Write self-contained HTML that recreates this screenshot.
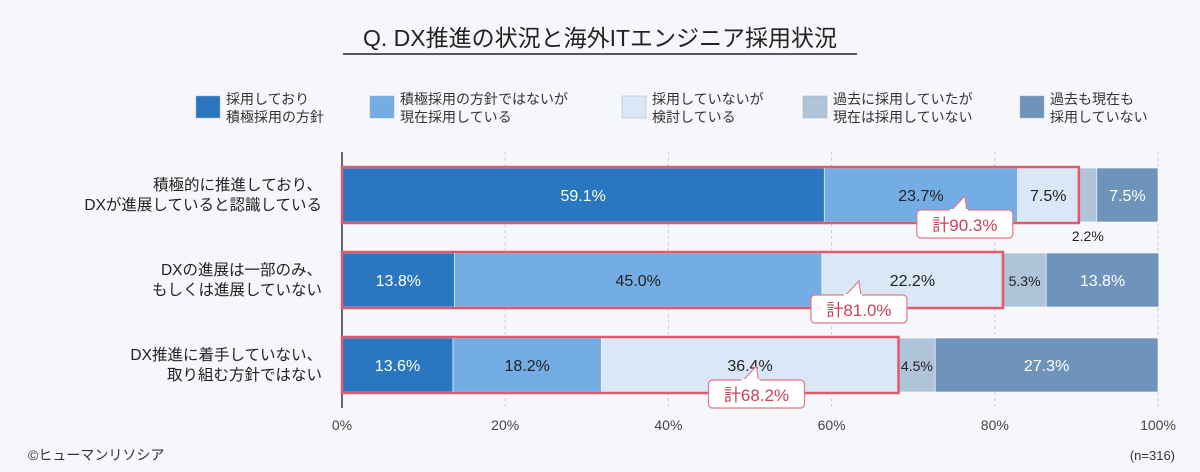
<!DOCTYPE html>
<html><head><meta charset="utf-8"><style>
body{margin:0;background:#f6f7fa;font-family:"Liberation Sans","Noto Sans CJK JP",sans-serif}
svg{display:block}
</style></head><body>
<svg id="c" width="1200" height="472" viewBox="0 0 1200 472" font-family="Liberation Sans, Noto Sans CJK JP, sans-serif">
<rect width="1200" height="472" fill="#f6f7fa"/>
<text x="600" y="46" text-anchor="middle" font-size="23" fill="#222">Q. DX推進の状況と海外ITエンジニア採用状況</text>
<line x1="343" y1="54" x2="857" y2="54" stroke="#222" stroke-width="1.5"/>
<text x="28" y="460" font-size="14" fill="#333">©ヒューマンリソシア</text>
<text x="1175" y="460" text-anchor="end" font-size="13" fill="#333">(n=316)</text>
<g id="legend"></g><g id="plot"></g>
</svg>
<script>
const categories=["積極的に推進しており、|DXが進展していると認識している","DXの進展は一部のみ、|もしくは進展していない","DX推進に着手していない、|取り組む方針ではない"];
const seriesNames=["採用しており|積極採用の方針","積極採用の方針ではないが|現在採用している","採用していないが|検討している","過去に採用していたが|現在は採用していない","過去も現在も|採用していない"];
const s1=[59.1,13.8,13.6];
const s2=[23.7,45.0,18.2];
const s3=[7.5,22.2,36.4];
const s4=[2.2,5.3,4.5];
const s5=[7.5,13.8,27.3];
const totals=["計90.3%","計81.0%","計68.2%"];
const ticks=[0,20,40,60,80,100];
const series=[s1,s2,s3,s4,s5];
const colors=["#2a77c0","#74ade4","#d9e7f7","#afc3d9","#6f94bc"];
const textCol=["#fff","#222","#222","#222","#fff"];
const NS="http://www.w3.org/2000/svg";
const X0=342,X1=1158;
const x=v=>X0+(X1-X0)*v/100;
const rowTop=i=>168+i*85, BH=54;
function mk(tag,attrs,parent,txt){const e=document.createElementNS(NS,tag);for(const k in attrs)e.setAttribute(k,attrs[k]);if(txt!==undefined)e.textContent=txt;parent.appendChild(e);return e;}
const plot=document.getElementById('plot'),leg=document.getElementById('legend');
// legend
const lx=[196,370,622,803,1020];
seriesNames.forEach((n,i)=>{
 const r=mk('rect',{x:lx[i],y:96,width:24,height:22,fill:colors[i],stroke:'#aab',"stroke-width":0.5},leg);
 
 
 n.split('|').forEach((l,j)=>{const t=mk('text',{x:lx[i]+30,y:104+j*18,"font-size":14,fill:'#333'},leg,l);
 
 });
});
// grid
ticks.forEach(t=>{
 if(t>0){const g=mk('line',{x1:x(t),x2:x(t),y1:152,y2:408,stroke:'#c8ccd4',"stroke-dasharray":'3,3'},plot);
 
 }
 const tl=mk('text',{x:x(t),y:430,"text-anchor":'middle',"font-size":14,fill:'#444'},plot,t+'%');
 
 
});
mk('line',{x1:X0,x2:X0,y1:152,y2:408,stroke:'#333',"stroke-width":1.5},plot);
categories.forEach((c,i)=>{
 const y0=rowTop(i);
 c.split('|').forEach((l,j)=>{const t=mk('text',{x:322,y:y0+22+j*20,"text-anchor":'end',"font-size":15.5,fill:'#222'},plot,l);
 
 });
 let acc=0;
 series.forEach((s,k)=>{
  const v=s[i];
  const r=mk('rect',{x:x(acc),y:y0,width:x(acc+v)-x(acc),height:BH,fill:colors[k],stroke:'#fff',"stroke-width":0.6},plot);
  
  
  const cx=(x(acc)+x(acc+v))/2;
  let ty=y0+BH/2+6;
  let tx=cx;
  if(v<3){ty=y0+BH+19;}
  const t=mk('text',{x:tx,y:ty,"text-anchor":'middle',"font-size":v<6?14:16,fill:v<3?'#222':textCol[k]},plot,v.toFixed(1)+'%');
  
  
  acc+=v;
 });
 const tot=s1[i]+s2[i]+s3[i];
 const ob=mk('rect',{x:X0,y:y0-1,width:x(tot)-X0,height:BH+2,fill:'none',stroke:'#e05a6e',"stroke-width":2.5},plot);
 
 
 // callout
 const cx=x(tot)-82*(1)+ (i==2?-60:(i==1?-62:-32))+ (i==0?-0:0);
 const bx=cx-48,by=y0+BH-12,bw=96,bh=28;
 mk('path',{d:`M${bx+34} ${by+1} L${bx+48} ${by-14} L${bx+50} ${by+1}`,fill:'#fff',stroke:'#e07a88',"stroke-width":1.2},plot);
 const cb=mk('rect',{x:bx,y:by,width:bw,height:bh,rx:4,fill:'#fff',stroke:'#e07a88',"stroke-width":1.2},plot);
 
 
 mk('rect',{x:bx+33,y:by-1,width:18,height:3,fill:'#fff'},plot);
 const tt=mk('text',{x:bx+bw/2,y:by+21,"text-anchor":'middle',"font-size":17,fill:'#c8405a'},plot,totals[i]);
 
 
});
</script>
</body></html>
